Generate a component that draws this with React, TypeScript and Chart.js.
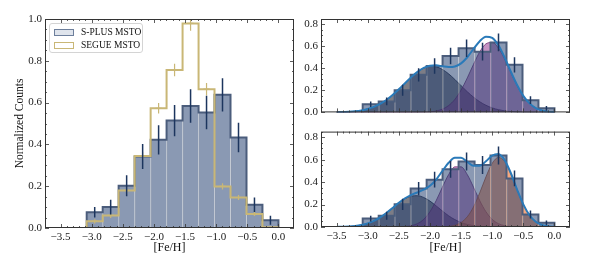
import React, { useEffect, useRef } from "react";
import { Chart, registerables } from "chart.js";
Chart.register(...registerables);

// ---------- data ----------
const binEdges = [-3.08, -2.823, -2.567, -2.31, -2.053, -1.797, -1.54, -1.283, -1.027, -0.77, -0.513, -0.257, 0.0];
const splusCounts = [0.075, 0.10, 0.202, 0.342, 0.422, 0.514, 0.584, 0.553, 0.637, 0.433, 0.111, 0.037];
const splusErr = [0.025, 0.035, 0.05, 0.06, 0.07, 0.075, 0.08, 0.08, 0.08, 0.07, 0.035, 0.022];
const segueCounts = [0.032, 0.06, 0.18, 0.345, 0.573, 0.756, 0.979, 0.664, 0.199, 0.146, 0.067, 0.003];
const segueErr = [0.01, 0.012, 0.015, 0.02, 0.025, 0.03, 0.035, 0.03, 0.015, 0.012, 0.01, 0];
const segueXErr = 0.05;

const fitX = [-3.5, -3.4, -3.3, -3.2, -3.1, -3.0, -2.9, -2.8, -2.7, -2.6, -2.5, -2.4, -2.3, -2.2, -2.1, -2.0, -1.9, -1.8, -1.7, -1.6, -1.5, -1.4, -1.3, -1.2, -1.1, -1.0, -0.9, -0.8, -0.7, -0.6, -0.5, -0.4, -0.3, -0.2, -0.1, 0.0];
const topComp1 = [0.001, 0.003, 0.005, 0.010, 0.018, 0.031, 0.050, 0.077, 0.113, 0.158, 0.210, 0.266, 0.321, 0.369, 0.403, 0.419, 0.415, 0.391, 0.351, 0.300, 0.243, 0.188, 0.139, 0.097, 0.065, 0.041, 0.025, 0.014, 0.008, 0.004, 0.002, 0.001, 0, 0, 0, 0];
const topComp2 = [0, 0, 0, 0, 0, 0, 0, 0, 0, 0, 0, 0, 0, 0.001, 0.002, 0.005, 0.013, 0.029, 0.062, 0.118, 0.203, 0.314, 0.438, 0.551, 0.624, 0.637, 0.586, 0.486, 0.363, 0.245, 0.148, 0.081, 0.040, 0.018, 0.007, 0.003];
const topTotal = [0.001, 0.003, 0.005, 0.010, 0.018, 0.031, 0.050, 0.077, 0.113, 0.158, 0.210, 0.266, 0.321, 0.369, 0.405, 0.424, 0.428, 0.420, 0.413, 0.418, 0.446, 0.502, 0.577, 0.648, 0.689, 0.678, 0.611, 0.500, 0.371, 0.249, 0.150, 0.082, 0.040, 0.018, 0.007, 0.003];
const botComp1 = [0.001, 0.002, 0.004, 0.009, 0.018, 0.032, 0.054, 0.086, 0.125, 0.170, 0.215, 0.252, 0.275, 0.279, 0.263, 0.231, 0.188, 0.143, 0.100, 0.066, 0.040, 0.023, 0.012, 0.006, 0.003, 0.001, 0, 0, 0, 0, 0, 0, 0, 0, 0, 0];
const botComp2 = [0, 0, 0, 0, 0, 0, 0, 0, 0, 0, 0.001, 0.004, 0.012, 0.030, 0.068, 0.136, 0.235, 0.355, 0.467, 0.536, 0.536, 0.467, 0.355, 0.235, 0.136, 0.068, 0.030, 0.012, 0.004, 0.001, 0, 0, 0, 0, 0, 0];
const botComp3 = [0, 0, 0, 0, 0, 0, 0, 0, 0, 0, 0, 0, 0, 0, 0, 0, 0, 0.001, 0.005, 0.015, 0.040, 0.091, 0.179, 0.305, 0.447, 0.567, 0.620, 0.584, 0.475, 0.333, 0.201, 0.105, 0.047, 0.018, 0.006, 0.002];
const botTotal = [0.001, 0.002, 0.004, 0.009, 0.018, 0.032, 0.054, 0.086, 0.125, 0.170, 0.216, 0.256, 0.287, 0.309, 0.332, 0.367, 0.423, 0.499, 0.572, 0.617, 0.616, 0.581, 0.546, 0.546, 0.586, 0.636, 0.650, 0.596, 0.479, 0.334, 0.202, 0.105, 0.047, 0.018, 0.006, 0.002];

const legendLabels = ["S-PLUS MSTO", "SEGUE MSTO"];
const xTitle = "[Fe/H]";
const yTitle = "Normalized Counts";

// ---------- styles ----------
const FONT = "'Liberation Serif', 'Times New Roman', serif";
const C_FILL = "rgba(30,60,110,0.52)";
const C_EDGE = "#4b5d7c";
const C_DIV = "rgba(175,180,190,0.55)";
const C_ERR = "#1c355e";
const C_SEGUE = "#c9b776";
const C_FIT = "#2a7ab9";

Chart.defaults.font.family = FONT;
Chart.defaults.font.size = 11;
Chart.defaults.color = "#1a1a1a";

// ---------- helpers ----------
const centers = splusCounts.map((_, i) => (binEdges[i] + binEdges[i + 1]) / 2);

function stepPoints(vals: number[]) {
  const pts: any[] = [{ x: binEdges[0], y: 0 }];
  vals.forEach((v, i) => pts.push({ x: binEdges[i], y: v }));
  pts.push({ x: binEdges[binEdges.length - 1], y: vals[vals.length - 1] });
  pts.push({ x: binEdges[binEdges.length - 1], y: 0 });
  return pts;
}
function vSegs(vals: number[], errs: number[]) {
  const pts: any[] = [];
  vals.forEach((v, i) => {
    if (errs[i] <= 0) return;
    pts.push({ x: centers[i], y: v - errs[i] }, { x: centers[i], y: v + errs[i] }, { x: centers[i], y: null });
  });
  return pts;
}
function hSegs(vals: number[], errs: number[], xe: number) {
  const pts: any[] = [];
  vals.forEach((v, i) => {
    if (errs[i] <= 0) return;
    pts.push({ x: centers[i] - xe, y: v }, { x: centers[i] + xe, y: v }, { x: centers[i], y: null });
  });
  return pts;
}
const fitPts = (ys: number[]) => fitX.map((x, i) => ({ x, y: ys[i] }));

const fmt = (v: number) => (v < 0 ? "\u2212" : "") + Math.abs(v).toFixed(1);

function framePlugin(yMax: number) {
  return {
    id: "frameTicks",
    afterDatasetsDraw(chart: any) {
      const { ctx, chartArea: a, scales } = chart;
      const xs = scales.x, ys = scales.y;
      ctx.save();
      ctx.strokeStyle = "#333";
      ctx.lineWidth = 0.8;
      ctx.beginPath();
      const nx = Math.round((xs.max - xs.min) / 0.1);
      for (let i = 0; i <= nx; i++) {
        const v = xs.min + i * 0.1;
        const major = i % 5 === 0;
        const L = major ? 4 : 2;
        const px = Math.round(xs.getPixelForValue(v)) + 0.5;
        ctx.moveTo(px, a.bottom); ctx.lineTo(px, a.bottom - L);
        ctx.moveTo(px, a.top); ctx.lineTo(px, a.top + L);
      }
      const ny = Math.round(yMax / 0.05);
      for (let i = 0; i <= ny; i++) {
        const v = i * 0.05;
        const major = i % 4 === 0;
        const L = major ? 4 : 2;
        const py = Math.round(ys.getPixelForValue(v)) + 0.5;
        ctx.moveTo(a.left, py); ctx.lineTo(a.left + L, py);
        ctx.moveTo(a.right, py); ctx.lineTo(a.right - L, py);
      }
      ctx.stroke();
      ctx.lineWidth = 1;
      ctx.strokeRect(a.left + 0.5, a.top + 0.5, a.right - a.left - 1, a.bottom - a.top - 1);
      ctx.restore();
    },
  };
}

function histDatasets() {
  return [
    {
      type: "bar",
      data: centers.map((x, i) => ({ x, y: splusCounts[i] })),
      backgroundColor: C_FILL,
      borderColor: C_DIV,
      borderWidth: { left: 1, right: 0, top: 0, bottom: 0 },
      borderSkipped: false,
      barPercentage: 1,
      categoryPercentage: 1,
      order: 20,
    },
    {
      type: "line",
      data: stepPoints(splusCounts),
      stepped: true,
      borderColor: C_EDGE,
      borderWidth: 2,
      pointRadius: 0,
      fill: false,
      order: 15,
    },
  ];
}
function errDataset() {
  return {
    type: "line",
    data: vSegs(splusCounts, splusErr),
    borderColor: C_ERR,
    borderWidth: 1.5,
    pointRadius: 0,
    spanGaps: false,
    fill: false,
    order: 0,
  };
}
function fillCurve(ys: number[], bg: string, bc: string, order: number) {
  return {
    type: "line",
    data: fitPts(ys),
    backgroundColor: bg,
    borderColor: bc,
    borderWidth: 1,
    pointRadius: 0,
    fill: "origin",
    cubicInterpolationMode: "monotone",
    order,
  };
}

function makeOptions(opts: {
  yMax: number;
  yWidth: number;
  xHeight: number;
  padding: any;
  showXLabels: boolean;
  showYTitle: boolean;
}) {
  return {
    animation: false,
    responsive: true,
    maintainAspectRatio: false,
    events: [],
    layout: { padding: opts.padding },
    plugins: { legend: { display: false }, tooltip: { enabled: false } },
    scales: {
      x: {
        type: "linear",
        min: -3.5,
        max: 0,
        grid: { display: false, drawTicks: false },
        border: { display: false },
        ticks: {
          display: opts.showXLabels,
          stepSize: 0.5,
          includeBounds: false,
          padding: 3,
          maxRotation: 0,
          autoSkip: false,
          callback: (v: number) => fmt(v),
        },
        title: {
          display: opts.showXLabels,
          text: xTitle,
          font: { size: 12 },
          padding: { top: 0, bottom: 3 },
          color: "#111",
        },
        afterBuildTicks: (s: any) => {
          s.ticks = s.ticks.filter((t: any) => Math.abs(t.value / 0.5 - Math.round(t.value / 0.5)) < 1e-6);
        },
        afterFit: (s: any) => {
          s.height = opts.xHeight;
        },
      },
      y: {
        type: "linear",
        min: 0,
        max: opts.yMax,
        grid: { display: false, drawTicks: false },
        border: { display: false },
        ticks: {
          stepSize: 0.2,
          includeBounds: false,
          padding: 3,
          autoSkip: false,
          callback: (v: number) => fmt(v),
        },
        title: {
          display: opts.showYTitle,
          text: yTitle,
          font: { size: 11.5 },
          padding: { top: 13, bottom: 0 },
          color: "#111",
        },
        afterBuildTicks: (s: any) => {
          s.ticks = s.ticks.filter((t: any) => Math.abs(t.value / 0.2 - Math.round(t.value / 0.2)) < 1e-6);
        },
        afterFit: (s: any) => {
          s.width = opts.yWidth;
        },
      },
    },
  };
}

function ChartBox({ box, make }: { box: React.CSSProperties; make: () => any }) {
  const ref = useRef<HTMLCanvasElement>(null);
  useEffect(() => {
    const chart = new Chart(ref.current as HTMLCanvasElement, make());
    return () => chart.destroy();
  }, []);
  return (
    <div style={{ position: "absolute", ...box }}>
      <canvas ref={ref} />
    </div>
  );
}

const leftConfig = () => ({
  type: "bar",
  data: {
    datasets: [
      ...histDatasets(),
      {
        type: "line",
        data: stepPoints(segueCounts),
        stepped: true,
        borderColor: C_SEGUE,
        borderWidth: 2,
        pointRadius: 0,
        fill: false,
        order: 5,
      },
      {
        type: "line",
        data: vSegs(segueCounts, segueErr),
        borderColor: C_SEGUE,
        borderWidth: 1.2,
        pointRadius: 0,
        spanGaps: false,
        fill: false,
        order: 4,
      },
      {
        type: "line",
        data: hSegs(segueCounts, segueErr, segueXErr),
        borderColor: C_SEGUE,
        borderWidth: 1.2,
        pointRadius: 0,
        spanGaps: false,
        fill: false,
        order: 4,
      },
      errDataset(),
    ],
  },
  options: makeOptions({ yMax: 1.0, yWidth: 45, xHeight: 30, padding: { left: 0, top: 19, right: 6, bottom: 0 }, showXLabels: true, showYTitle: true }),
  plugins: [framePlugin(1.0)],
});

const C1_BG = "rgba(45,45,58,0.62)";
const C1_BD = "rgba(30,35,55,0.8)";
const C2_BG = "rgba(140,40,135,0.5)";
const C2_BD = "rgba(100,30,100,0.7)";
const C3_BG = "rgba(238,105,35,0.58)";
const C3_BD = "rgba(170,75,30,0.7)";

const topConfig = () => ({
  type: "bar",
  data: {
    datasets: [
      ...histDatasets(),
      fillCurve(topComp1, C1_BG, C1_BD, 30),
      fillCurve(topComp2, C2_BG, C2_BD, 29),
      { type: "line", data: fitPts(topTotal), borderColor: C_FIT, borderWidth: 2, pointRadius: 0, fill: false, cubicInterpolationMode: "monotone", order: 2 },
      errDataset(),
    ],
  },
  options: makeOptions({ yMax: 0.85, yWidth: 31, xHeight: 1, padding: { left: 0, top: 19, right: 28, bottom: 0 }, showXLabels: false, showYTitle: false }),
  plugins: [framePlugin(0.85)],
});

const bottomConfig = () => ({
  type: "bar",
  data: {
    datasets: [
      ...histDatasets(),
      fillCurve(botComp1, C1_BG, C1_BD, 30),
      fillCurve(botComp2, C2_BG, C2_BD, 29),
      fillCurve(botComp3, C3_BG, C3_BD, 28),
      { type: "line", data: fitPts(botTotal), borderColor: C_FIT, borderWidth: 2, pointRadius: 0, fill: false, cubicInterpolationMode: "monotone", order: 2 },
      errDataset(),
    ],
  },
  options: makeOptions({ yMax: 0.85, yWidth: 31, xHeight: 31, padding: { left: 0, top: 3, right: 28, bottom: 0 }, showXLabels: true, showYTitle: false }),
  plugins: [framePlugin(0.85)],
});

function Legend() {
  const row = (label: string, edge: string, fill: string, top: number) => (
    <div style={{ position: "absolute", left: 4, top, height: 12, display: "flex", alignItems: "center" }}>
      <div style={{ width: 18, height: 5, border: `1.5px solid ${edge}`, background: fill, boxSizing: "content-box" }} />
      <span style={{ marginLeft: 7, fontFamily: FONT, fontSize: 9.5, color: "#111", whiteSpace: "nowrap" }}>{label}</span>
    </div>
  );
  return (
    <div
      style={{
        position: "absolute",
        left: 49,
        top: 23,
        width: 94,
        height: 30,
        border: "1px solid #d4d4d4",
        borderRadius: 3,
        background: "rgba(255,255,255,0.85)",
        boxSizing: "border-box",
      }}
    >
      {row(legendLabels[0], "#6d7f9c", "#dfe4ec", 2)}
      {row(legendLabels[1], C_SEGUE, "#ffffff", 15)}
    </div>
  );
}

export default function App() {
  return (
    <div style={{ position: "absolute", left: 0, top: 0, width: 598, height: 258, background: "#fff" }}>
      <ChartBox box={{ left: 0, top: 0, width: 300, height: 258 }} make={leftConfig} />
      <ChartBox box={{ left: 290, top: 0, width: 308, height: 122 }} make={topConfig} />
      <ChartBox box={{ left: 290, top: 122, width: 308, height: 136 }} make={bottomConfig} />
      <Legend />
    </div>
  );
}
